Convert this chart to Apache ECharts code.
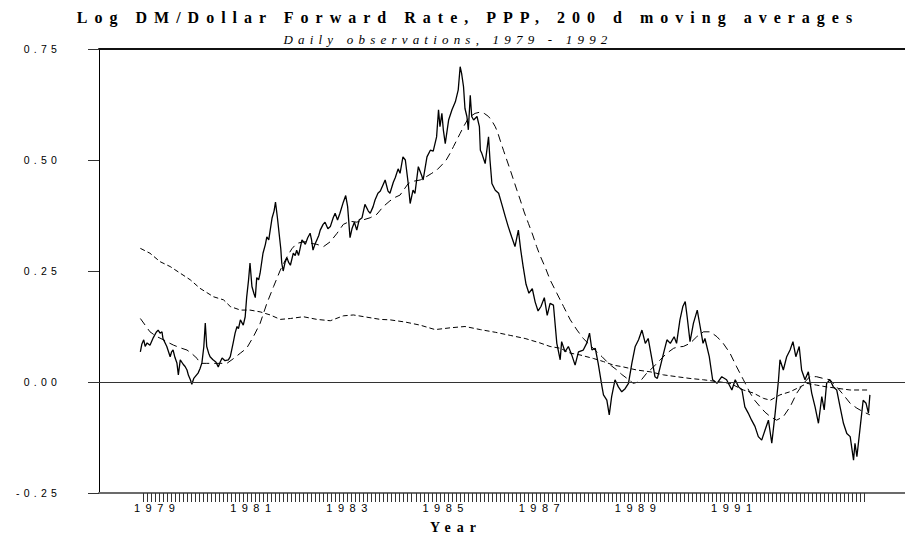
<!DOCTYPE html>
<html>
<head>
<meta charset="utf-8">
<script src="https://cdn.jsdelivr.net/npm/echarts@6.0.0/dist/echarts.min.js"></script>
<style>
  html, body { margin: 0; padding: 0; background: #fff; }
  #chart { width: 905px; height: 539px; }
</style>
</head>
<body>
<div id="chart"></div>
<script>
// --- données (x en années, y en log) --- //
const rateX = [
  1978.65, 1978.68, 1978.72, 1978.75, 1978.79, 1978.85, 1978.92, 1978.98, 1979.02, 1979.06,
  1979.10, 1979.12, 1979.20, 1979.27, 1979.30, 1979.33, 1979.37, 1979.41, 1979.44, 1979.48,
  1979.54, 1979.58, 1979.62, 1979.65, 1979.69, 1979.72, 1979.76, 1979.79, 1979.85, 1979.89,
  1979.93, 1979.97, 1980.00, 1980.03, 1980.07, 1980.10, 1980.16, 1980.22, 1980.27, 1980.31,
  1980.35, 1980.41, 1980.48, 1980.52, 1980.58, 1980.62, 1980.66, 1980.69, 1980.73, 1980.79,
  1980.83, 1980.86, 1980.90, 1980.93, 1980.97, 1981.01, 1981.04, 1981.07, 1981.11, 1981.14,
  1981.20, 1981.25, 1981.28, 1981.32, 1981.35, 1981.39, 1981.43, 1981.46, 1981.50, 1981.54,
  1981.57, 1981.59, 1981.62, 1981.66, 1981.70, 1981.73, 1981.77, 1981.83, 1981.87, 1981.90,
  1981.94, 1981.97, 1982.01, 1982.05, 1982.08, 1982.13, 1982.18, 1982.21, 1982.24, 1982.28,
  1982.32, 1982.36, 1982.39, 1982.45, 1982.49, 1982.55, 1982.60, 1982.66, 1982.70, 1982.75,
  1982.80, 1982.87, 1982.92, 1982.96, 1983.01, 1983.05, 1983.10, 1983.15, 1983.20, 1983.26,
  1983.32, 1983.39, 1983.43, 1983.49, 1983.53, 1983.59, 1983.64, 1983.70, 1983.74, 1983.80,
  1983.84, 1983.91, 1983.95, 1984.01, 1984.05, 1984.11, 1984.16, 1984.22, 1984.26, 1984.32,
  1984.36, 1984.43, 1984.50, 1984.53, 1984.61, 1984.68, 1984.74, 1984.81, 1984.85, 1984.88,
  1984.92, 1984.95, 1984.99, 1985.06, 1985.13, 1985.20, 1985.26, 1985.30, 1985.33, 1985.37,
  1985.40, 1985.44, 1985.47, 1985.51, 1985.54, 1985.58, 1985.65, 1985.70, 1985.72, 1985.75,
  1985.82, 1985.89, 1985.92, 1985.96, 1986.03, 1986.10, 1986.17, 1986.24, 1986.30, 1986.37,
  1986.44, 1986.51, 1986.56, 1986.61, 1986.67, 1986.73, 1986.80, 1986.86, 1986.92, 1986.98,
  1987.05, 1987.11, 1987.17, 1987.24, 1987.31, 1987.38, 1987.41, 1987.48, 1987.55, 1987.62,
  1987.69, 1987.76, 1987.86, 1987.93, 1987.99, 1988.04, 1988.11, 1988.17, 1988.25, 1988.28,
  1988.35, 1988.40, 1988.45, 1988.52, 1988.59, 1988.66, 1988.73, 1988.80, 1988.87, 1988.94,
  1989.01, 1989.08, 1989.15, 1989.21, 1989.29, 1989.35, 1989.40, 1989.46, 1989.53, 1989.60,
  1989.67, 1989.75, 1989.80, 1989.87, 1989.93, 1989.98, 1990.02, 1990.08, 1990.15, 1990.23,
  1990.29, 1990.35, 1990.39, 1990.48, 1990.55, 1990.64, 1990.74, 1990.84, 1990.95, 1991.02,
  1991.09, 1991.16, 1991.22, 1991.29, 1991.36, 1991.43, 1991.50, 1991.57, 1991.64, 1991.71,
  1991.78, 1991.85, 1991.92, 1991.95, 1992.02, 1992.09, 1992.16, 1992.22, 1992.28, 1992.35,
  1992.40, 1992.47, 1992.54, 1992.61, 1992.68, 1992.75, 1992.82, 1992.87, 1992.92, 1992.99,
  1993.06, 1993.13, 1993.20, 1993.27, 1993.34, 1993.41, 1993.48, 1993.51, 1993.55, 1993.62,
  1993.68, 1993.74, 1993.79, 1993.82
];
const rateY = [
  0.068, 0.085, 0.095, 0.080, 0.088, 0.083, 0.100, 0.112, 0.117, 0.110,
  0.113, 0.098, 0.080, 0.057, 0.068, 0.072, 0.055, 0.043, 0.016, 0.050,
  0.040, 0.035, 0.027, 0.015, 0.005, -0.005, 0.008, 0.012, 0.020, 0.030,
  0.043, 0.080, 0.133, 0.080, 0.065, 0.057, 0.050, 0.045, 0.034, 0.045,
  0.054, 0.048, 0.050, 0.057, 0.088, 0.110, 0.125, 0.120, 0.140, 0.128,
  0.147, 0.190, 0.230, 0.268, 0.215, 0.200, 0.190, 0.235, 0.230, 0.245,
  0.290, 0.310, 0.327, 0.320, 0.342, 0.370, 0.385, 0.405, 0.370, 0.330,
  0.300, 0.268, 0.250, 0.270, 0.280, 0.270, 0.263, 0.290, 0.285, 0.297,
  0.285, 0.300, 0.320, 0.315, 0.310, 0.325, 0.335, 0.320, 0.297, 0.310,
  0.320, 0.330, 0.342, 0.355, 0.360, 0.345, 0.350, 0.370, 0.380, 0.365,
  0.380, 0.405, 0.420, 0.395, 0.325, 0.345, 0.360, 0.342, 0.365, 0.370,
  0.400, 0.385, 0.380, 0.395, 0.410, 0.425, 0.430, 0.445, 0.455, 0.430,
  0.425, 0.450, 0.460, 0.480, 0.470, 0.507, 0.500, 0.447, 0.402, 0.432,
  0.425, 0.485, 0.465, 0.455, 0.507, 0.522, 0.520, 0.552, 0.613, 0.575,
  0.605, 0.568, 0.537, 0.590, 0.613, 0.631, 0.658, 0.710, 0.695, 0.665,
  0.616, 0.598, 0.568, 0.646, 0.598, 0.590, 0.598, 0.575, 0.522, 0.515,
  0.492, 0.552, 0.500, 0.447, 0.432, 0.425, 0.399, 0.372, 0.350, 0.327,
  0.305, 0.342, 0.297, 0.260, 0.220, 0.200, 0.210, 0.180, 0.160, 0.170,
  0.190, 0.150, 0.177, 0.173, 0.087, 0.050, 0.091, 0.068, 0.080, 0.061,
  0.038, 0.068, 0.072, 0.087, 0.110, 0.072, 0.076, 0.042, -0.011, -0.029,
  -0.041, -0.074, -0.033, 0.005, -0.011, -0.022, -0.015, -0.003, 0.042, 0.080,
  0.095, 0.117, 0.087, 0.098, 0.050, 0.012, 0.008, 0.034, 0.065, 0.095,
  0.087, 0.102, 0.087, 0.140, 0.170, 0.181, 0.147, 0.091, 0.132, 0.162,
  0.125, 0.087, 0.098, 0.057, 0.005, -0.003, 0.012, 0.005, -0.018, 0.005,
  -0.011, -0.018, -0.056, -0.070, -0.086, -0.100, -0.123, -0.131, -0.108, -0.086,
  -0.138, -0.070, 0.005, 0.050, 0.027, 0.057, 0.072, 0.091, 0.057, 0.080,
  0.027, 0.005, 0.023, -0.025, -0.056, -0.093, -0.033, -0.063, -0.003, 0.005,
  -0.011, -0.018, -0.056, -0.093, -0.116, -0.123, -0.176, -0.138, -0.168, -0.100,
  -0.041, -0.048, -0.070, -0.029
];

// moyenne mobile 200 jours (tirets longs)
const maX = [
  1978.65, 1978.75, 1978.85, 1978.98, 1979.13, 1979.23, 1979.34, 1979.48, 1979.62, 1979.73,
  1979.83, 1979.89, 1980.03, 1980.17, 1980.31, 1980.45, 1980.59, 1980.73, 1980.86, 1981.00,
  1981.14, 1981.28, 1981.42, 1981.56, 1981.70, 1981.80, 1981.90, 1982.01, 1982.11, 1982.22,
  1982.32, 1982.46, 1982.60, 1982.74, 1982.87, 1983.01, 1983.15, 1983.28, 1983.43, 1983.57,
  1983.70, 1983.84, 1983.95, 1984.05, 1984.22, 1984.32, 1984.47, 1984.59, 1984.71, 1984.82,
  1984.92, 1985.01, 1985.09, 1985.16, 1985.23, 1985.30, 1985.37, 1985.47, 1985.54, 1985.61,
  1985.72, 1985.80, 1985.89, 1985.96, 1986.03, 1986.08, 1986.13, 1986.20, 1986.27, 1986.34,
  1986.41, 1986.48, 1986.55, 1986.63, 1986.72, 1986.81, 1986.89, 1986.96, 1987.07, 1987.17,
  1987.31, 1987.45, 1987.59, 1987.73, 1987.86, 1988.00, 1988.14, 1988.25, 1988.35, 1988.45,
  1988.56, 1988.66, 1988.77, 1988.90, 1989.04, 1989.18, 1989.32, 1989.46, 1989.60, 1989.74,
  1989.83, 1989.94, 1990.08, 1990.22, 1990.36, 1990.50, 1990.64, 1990.77, 1990.91, 1991.05,
  1991.19, 1991.33, 1991.43, 1991.54, 1991.64, 1991.75, 1991.88, 1992.02, 1992.16, 1992.30,
  1992.44, 1992.57, 1992.71, 1992.85, 1992.99, 1993.13, 1993.27, 1993.41, 1993.55, 1993.68,
  1993.82
];
const maY = [
  0.143, 0.128, 0.113, 0.103, 0.095, 0.089, 0.083, 0.077, 0.072, 0.063,
  0.053, 0.042, 0.042, 0.042, 0.042, 0.042, 0.053, 0.065, 0.076, 0.102,
  0.132, 0.177, 0.215, 0.252, 0.282, 0.300, 0.312, 0.315, 0.316, 0.312,
  0.310, 0.305, 0.316, 0.335, 0.355, 0.362, 0.360, 0.365, 0.370, 0.378,
  0.395, 0.408, 0.416, 0.421, 0.447, 0.452, 0.455, 0.462, 0.470, 0.478,
  0.489, 0.500, 0.515, 0.530, 0.545, 0.560, 0.575, 0.594, 0.600, 0.605,
  0.608, 0.605, 0.598, 0.588, 0.575, 0.562, 0.545, 0.522, 0.500, 0.478,
  0.455, 0.432, 0.410, 0.383, 0.357, 0.331, 0.305, 0.285, 0.258, 0.230,
  0.200, 0.170, 0.140, 0.117, 0.098, 0.083, 0.068, 0.057, 0.046, 0.036,
  0.027, 0.017, 0.008, -0.003, 0.001, 0.020, 0.034, 0.050, 0.065, 0.076,
  0.079, 0.080, 0.087, 0.102, 0.113, 0.113, 0.102, 0.087, 0.065, 0.034,
  0.005, -0.025, -0.042, -0.056, -0.068, -0.078, -0.086, -0.078, -0.056, -0.025,
  -0.003, 0.012, 0.012, 0.008, 0.005, -0.011, -0.029, -0.048, -0.059, -0.067,
  -0.074
];

// PPP (tirets courts)
const pppX = [
  1978.65, 1978.85, 1979.06, 1979.27, 1979.48, 1979.69, 1979.89, 1980.17, 1980.38, 1980.52,
  1980.73, 1980.93, 1981.14, 1981.35, 1981.56, 1981.77, 1982.04, 1982.32, 1982.60, 1982.87,
  1983.08, 1983.36, 1983.64, 1983.84, 1984.16, 1984.47, 1984.78, 1985.09, 1985.40, 1985.72,
  1986.03, 1986.34, 1986.65, 1986.96, 1987.17, 1987.38, 1987.59, 1987.79, 1988.07, 1988.28,
  1988.49, 1988.69, 1988.97, 1989.25, 1989.53, 1989.80, 1990.08, 1990.36, 1990.64, 1990.91,
  1991.19, 1991.40, 1991.61, 1991.75, 1991.95, 1992.16, 1992.37, 1992.51, 1992.71, 1992.92,
  1993.13, 1993.41, 1993.82
];
const pppY = [
  0.301, 0.290, 0.271, 0.260, 0.245, 0.230, 0.211, 0.192, 0.185, 0.170,
  0.162, 0.162, 0.158, 0.151, 0.141, 0.143, 0.147, 0.141, 0.138, 0.149,
  0.151, 0.146, 0.141, 0.140, 0.135, 0.128, 0.118, 0.122, 0.125, 0.118,
  0.112, 0.105, 0.098, 0.088, 0.080, 0.076, 0.065, 0.061, 0.053, 0.046,
  0.038, 0.034, 0.027, 0.023, 0.016, 0.012, 0.008, 0.005, 0.001, -0.003,
  -0.018, -0.025, -0.037, -0.041, -0.029, -0.022, -0.011, -0.003, -0.007, -0.011,
  -0.014, -0.018, -0.018
];

const yearLabels = [1979, 1981, 1983, 1985, 1987, 1989, 1991];

// graduations mensuelles sous l'axe des x
const monthTicks = [];
for (let i = 0; i <= 180; i++) monthTicks.push(1978.71 + i / 12);

const pairs = (xs, ys) => xs.map((x, i) => [x, ys[i]]);

const domViz = document.getElementById('chart');
const chart = echarts.init(domViz, null, { renderer: 'svg' });

const option = {
  animation: false,
  backgroundColor: '#fff',
  title: [
    {
      text: 'Log DM/Dollar Forward Rate, PPP, 200 d moving averages',
      left: 468, top: 9, textAlign: 'center', padding: 0,
      textStyle: { fontFamily: 'Liberation Serif', fontWeight: 'bold', fontSize: 16, color: '#000' }
    },
    {
      text: 'Daily observations, 1979 - 1992',
      left: 448, top: 33, textAlign: 'center', padding: 0,
      textStyle: { fontFamily: 'Liberation Serif', fontStyle: 'italic', fontWeight: 'normal', fontSize: 13, color: '#000' }
    },
    {
      text: 'Year',
      left: 456, top: 520, textAlign: 'center', padding: 0,
      textStyle: { fontFamily: 'Liberation Serif', fontWeight: 'bold', fontSize: 14, color: '#000' }
    }
  ],
  grid: { left: 99, right: 0, top: 49, bottom: 46, outerBoundsMode: 'none' },
  xAxis: [
    {
      type: 'value', min: 1977.79, max: 1994.55,
      axisLine: { show: true, onZero: false, lineStyle: { color: '#6b6b6b', width: 2 } },
      axisTick: { show: true, customValues: monthTicks, length: 9, lineStyle: { color: '#333', width: 1 } },
      axisLabel: {
        customValues: yearLabels, margin: 9, color: '#000',
        fontFamily: 'Liberation Sans', fontSize: 11,
        formatter: v => String(Math.round(v))
      },
      splitLine: { show: false }
    },
    {
      type: 'value', position: 'top', min: 1977.79, max: 1994.55,
      axisLine: { show: true, onZero: false, lineStyle: { color: '#111', width: 2 } },
      axisTick: { show: false }, axisLabel: { show: false }, splitLine: { show: false }
    }
  ],
  yAxis: {
    type: 'value', min: -0.25, max: 0.75, interval: 0.25,
    axisLine: { show: true, onZero: false, lineStyle: { color: '#000', width: 1 } },
    axisTick: { show: true, length: 11, lineStyle: { color: '#333', width: 1 } },
    axisLabel: {
      margin: 38, color: '#000', fontFamily: 'Liberation Sans', fontSize: 10.5,
      formatter: v => v.toFixed(2)
    },
    splitLine: { show: false }
  },
  series: [
    {
      name: 'PPP', type: 'line', data: pairs(pppX, pppY),
      showSymbol: false, symbol: 'none', silent: true,
      lineStyle: { color: '#000', width: 1, type: [5, 3] }
    },
    {
      name: '200 d MA', type: 'line', data: pairs(maX, maY),
      showSymbol: false, symbol: 'none', silent: true,
      lineStyle: { color: '#000', width: 1, type: [8, 5] },
      markLine: {
        silent: true, symbol: ['none', 'none'], label: { show: false },
        lineStyle: { color: '#333', width: 1, type: 'solid' },
        data: [{ yAxis: 0 }]
      }
    },
    {
      name: 'Log DM/Dollar', type: 'line', data: pairs(rateX, rateY),
      showSymbol: false, symbol: 'none', silent: true,
      lineStyle: { color: '#000', width: 1.3 }
    }
  ]
};

// espacement des lettres comme dans l'original
function spaceText() {
  domViz.querySelectorAll('svg text').forEach(t => {
    const fs = parseFloat(getComputedStyle(t).fontSize);
    let ls = 5.5;
    if (fs >= 16) ls = 7.0;
    else if (fs >= 14) ls = 6;
    else if (fs >= 13) ls = 5.2;
    else if (fs < 11) ls = 4.2;
    t.style.letterSpacing = ls + 'px';
  });
}
chart.on('finished', spaceText);
chart.setOption(option);
spaceText();
</script>
</body>
</html>
